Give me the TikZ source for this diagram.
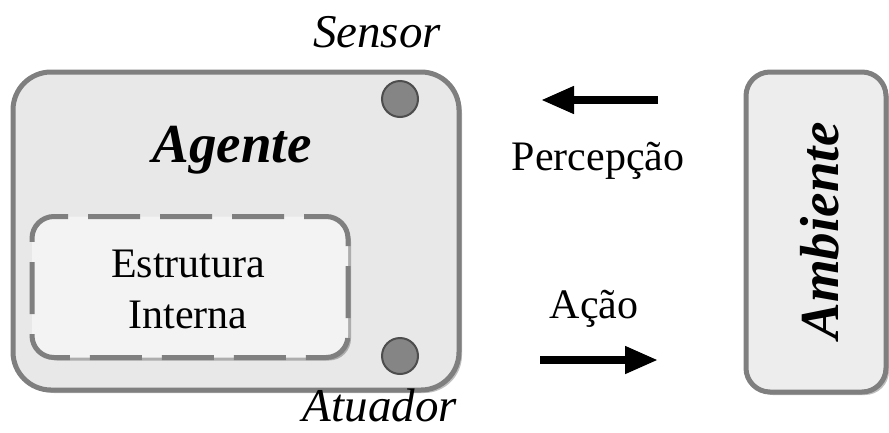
\documentclass[tikz,border=0pt]{standalone}
\usepackage{fontspec}
\setmainfont{Liberation Serif}[ItalicFont={Liberation Serif Italic}, BoldFont={Liberation Serif Bold}, BoldItalicFont={Liberation Serif Bold Italic}]
\usetikzlibrary{arrows.meta,shadows}
\definecolor{bordergray}{HTML}{7F7F7F}
\definecolor{agentfill}{HTML}{E8E8E8}
\definecolor{innerfill}{HTML}{F3F3F3}
\definecolor{envfill}{HTML}{EDEDED}
\definecolor{dotfill}{HTML}{858585}
\definecolor{dotborder}{HTML}{4D4D4D}
\tikzset{
  softshadow/.style={drop shadow={shadow xshift=3pt, shadow yshift=-3pt, opacity=0.25, fill=black}},
  agentbox/.style={draw=bordergray, line width=5pt, fill=agentfill, rounded corners=38pt, softshadow},
  innerbox/.style={draw=bordergray, line width=5pt, fill=innerfill, rounded corners=22pt, dash pattern=on 52pt off 20pt, dash phase=30pt, softshadow},
  envbox/.style={draw=bordergray, line width=5pt, fill=envfill, rounded corners=24pt, softshadow},
  dot/.style={circle, draw=dotborder, line width=2pt, fill=dotfill, minimum size=36pt, inner sep=0pt},
  lbl/.style={inner sep=0pt, anchor=base, font=\fontsize{42}{50}\selectfont},
  italbl/.style={inner sep=0pt, anchor=base, font=\fontsize{47}{56}\selectfont\itshape},
  biglbl/.style={inner sep=0pt, anchor=base, font=\fontsize{55}{64}\selectfont\bfseries\itshape},
  fatarrow/.style={line width=7.5pt, -{Triangle[length=33pt,width=26pt]}}
}
\begin{document}
\begin{tikzpicture}[x=1pt,y=-1pt]
\useasboundingbox (0,0) rectangle (889,432);
% agent
\node[agentbox, minimum width=446pt, minimum height=318pt] (agent) at (236,231) {};
\node[innerbox, minimum width=316pt, minimum height=141pt] (inner) at (190,287) {};
\node[lbl] (estr) at (188,277) {Estrutura};
\node[lbl] (intr) at (188,328) {Interna};
\node[biglbl] (agtxt) at (232,162) {Agente};
\node[dot] (sensor) at (400,99) {};
\node[dot] (atuador) at (400,356) {};
\node[italbl] (sensortxt) at (377,47) {Sensor};
\node[italbl] (atuadortxt) at (380,421) {Atuador};
% environment
\node[envbox, minimum width=140pt, minimum height=320pt] (env) at (816,232) {};
\node[biglbl, rotate=90] (envtxt) at (838,231) {Ambiente};
% arrows
\coordinate (pa) at (658,100);
\coordinate (pb) at (541,100);
\coordinate (aa) at (540,360);
\coordinate (ab) at (658,360);
\draw[fatarrow] (pa) -- (pb);
\draw[fatarrow] (aa) -- (ab);
\node[lbl] (perc) at (598,170) {Percepção};
\node[lbl] (acao) at (594,318) {Ação};
\end{tikzpicture}
\end{document}
